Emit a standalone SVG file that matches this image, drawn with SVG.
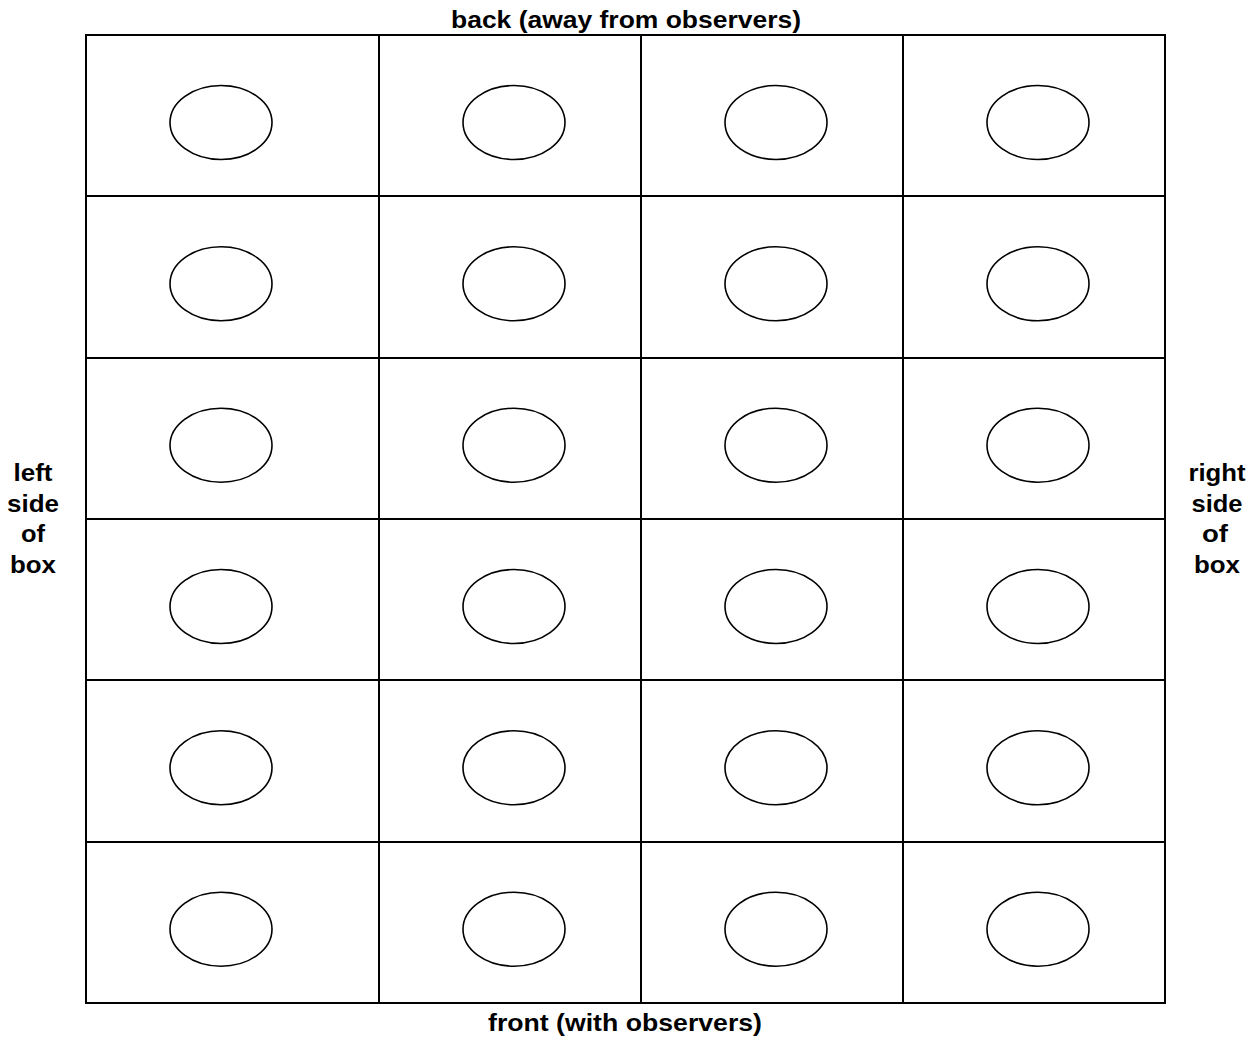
<svg xmlns="http://www.w3.org/2000/svg" width="1254" height="1040" viewBox="0 0 1254 1040">
<style>
.grid{fill:none;stroke:#000;stroke-width:2}
.seat{fill:#fff;stroke:#000;stroke-width:1.6}
.lbl{font-family:"Liberation Sans",Arial,sans-serif;font-weight:bold;font-size:24px;fill:#000;text-anchor:middle}
</style>
<rect width="1254" height="1040" fill="#fff"/>
<g id="grid">
<rect class="grid" x="86" y="35" width="1079" height="968"/>
<line class="grid" x1="379" y1="35" x2="379" y2="1003"/>
<line class="grid" x1="641" y1="35" x2="641" y2="1003"/>
<line class="grid" x1="903" y1="35" x2="903" y2="1003"/>
<line class="grid" x1="86" y1="196" x2="1165" y2="196"/>
<line class="grid" x1="86" y1="358" x2="1165" y2="358"/>
<line class="grid" x1="86" y1="519" x2="1165" y2="519"/>
<line class="grid" x1="86" y1="680" x2="1165" y2="680"/>
<line class="grid" x1="86" y1="842" x2="1165" y2="842"/>
</g>
<g id="seats">
<g id="r1c1"><ellipse class="seat" cx="221" cy="122.5" rx="51" ry="37"/></g>
<g id="r1c2"><ellipse class="seat" cx="514" cy="122.5" rx="51" ry="37"/></g>
<g id="r1c3"><ellipse class="seat" cx="776" cy="122.5" rx="51" ry="37"/></g>
<g id="r1c4"><ellipse class="seat" cx="1038" cy="122.5" rx="51" ry="37"/></g>
<g id="r2c1"><ellipse class="seat" cx="221" cy="283.8" rx="51" ry="37"/></g>
<g id="r2c2"><ellipse class="seat" cx="514" cy="283.8" rx="51" ry="37"/></g>
<g id="r2c3"><ellipse class="seat" cx="776" cy="283.8" rx="51" ry="37"/></g>
<g id="r2c4"><ellipse class="seat" cx="1038" cy="283.8" rx="51" ry="37"/></g>
<g id="r3c1"><ellipse class="seat" cx="221" cy="445.2" rx="51" ry="37"/></g>
<g id="r3c2"><ellipse class="seat" cx="514" cy="445.2" rx="51" ry="37"/></g>
<g id="r3c3"><ellipse class="seat" cx="776" cy="445.2" rx="51" ry="37"/></g>
<g id="r3c4"><ellipse class="seat" cx="1038" cy="445.2" rx="51" ry="37"/></g>
<g id="r4c1"><ellipse class="seat" cx="221" cy="606.5" rx="51" ry="37"/></g>
<g id="r4c2"><ellipse class="seat" cx="514" cy="606.5" rx="51" ry="37"/></g>
<g id="r4c3"><ellipse class="seat" cx="776" cy="606.5" rx="51" ry="37"/></g>
<g id="r4c4"><ellipse class="seat" cx="1038" cy="606.5" rx="51" ry="37"/></g>
<g id="r5c1"><ellipse class="seat" cx="221" cy="767.8" rx="51" ry="37"/></g>
<g id="r5c2"><ellipse class="seat" cx="514" cy="767.8" rx="51" ry="37"/></g>
<g id="r5c3"><ellipse class="seat" cx="776" cy="767.8" rx="51" ry="37"/></g>
<g id="r5c4"><ellipse class="seat" cx="1038" cy="767.8" rx="51" ry="37"/></g>
<g id="r6c1"><ellipse class="seat" cx="221" cy="929.2" rx="51" ry="37"/></g>
<g id="r6c2"><ellipse class="seat" cx="514" cy="929.2" rx="51" ry="37"/></g>
<g id="r6c3"><ellipse class="seat" cx="776" cy="929.2" rx="51" ry="37"/></g>
<g id="r6c4"><ellipse class="seat" cx="1038" cy="929.2" rx="51" ry="37"/></g>
</g>
<g id="connectors"/>
<g id="labels">
<text class="lbl" x="626" y="28" textLength="350" lengthAdjust="spacingAndGlyphs">back (away from observers)</text>
<text class="lbl" x="625" y="1031" textLength="274" lengthAdjust="spacingAndGlyphs">front (with observers)</text>
<g id="left-label">
<text class="lbl" x="33" y="481" textLength="39" lengthAdjust="spacingAndGlyphs">left</text>
<text class="lbl" x="33" y="512" textLength="52" lengthAdjust="spacingAndGlyphs">side</text>
<text class="lbl" x="33" y="542" textLength="24" lengthAdjust="spacingAndGlyphs">of</text>
<text class="lbl" x="33" y="573" textLength="46" lengthAdjust="spacingAndGlyphs">box</text>
</g>
<g id="right-label">
<text class="lbl" x="1217" y="481" textLength="57" lengthAdjust="spacingAndGlyphs">right</text>
<text class="lbl" x="1217" y="512" textLength="51" lengthAdjust="spacingAndGlyphs">side</text>
<text class="lbl" x="1215" y="542" textLength="26" lengthAdjust="spacingAndGlyphs">of</text>
<text class="lbl" x="1217" y="573" textLength="46" lengthAdjust="spacingAndGlyphs">box</text>
</g>
</g>
</svg>
